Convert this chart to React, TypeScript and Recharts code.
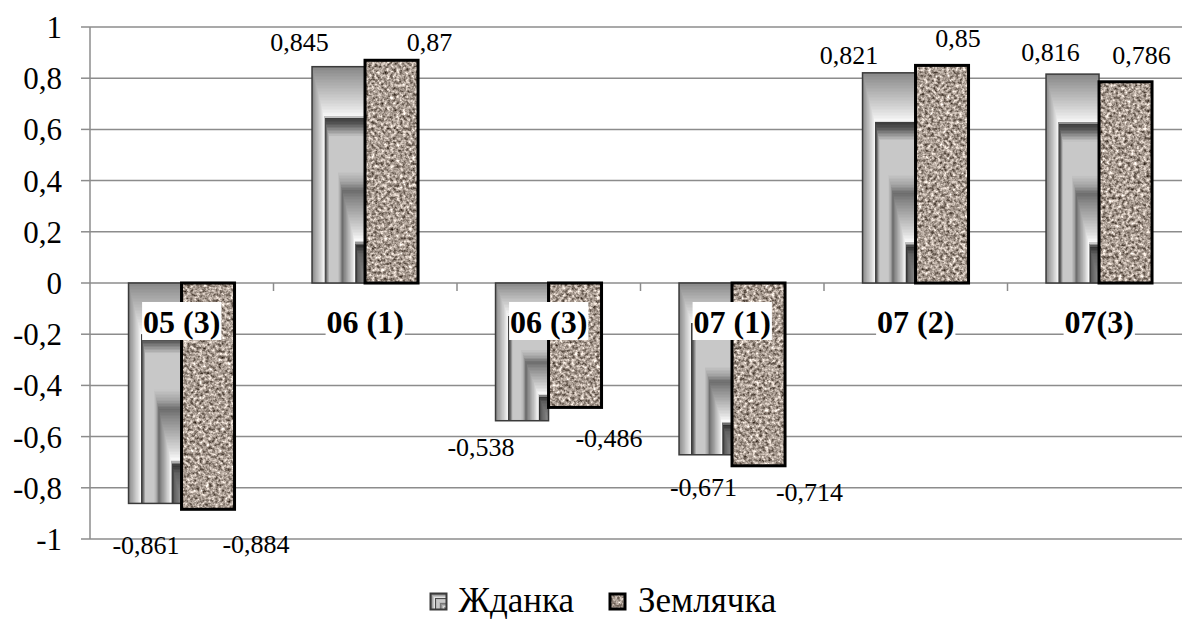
import React from 'react';
import {
  BarChart,
  Bar,
  XAxis,
  YAxis,
  CartesianGrid,
  Legend,
  LabelList,
} from 'recharts';

const categories = ['05 (3)', '06 (1)', '06 (3)', '07 (1)', '07 (2)', '07(3)'];
const zhdanka = [-0.861, 0.845, -0.538, -0.671, 0.821, 0.816];
const zemlyachka = [-0.884, 0.87, -0.486, -0.714, 0.85, 0.786];
const yTicks = [-1, -0.8, -0.6, -0.4, -0.2, 0, 0.2, 0.4, 0.6, 0.8, 1];

// label nudges [dx, dy] from bar centre / bar end, per category
const zhLabelShift: [number, number][] = [[-9, 41], [-39, -25], [-41, 26], [-2, 32], [-40, -18], [-22, -22]];
const zmLabelShift: [number, number][] = [[48, 35], [38, -18], [34, 30], [51, 26], [16, -28], [16, -27]];

const chartData = categories.map((name, i) => ({
  name,
  zhdanka: zhdanka[i],
  zemlyachka: zemlyachka[i],
}));

const W = 1200;
const H = 628;
const M = { top: 27, right: 9, left: 0, bottom: 0 };
const Y_AXIS_W = 90;
const X_AXIS_H = 1;
const LEGEND_H = 88;
const PLOT_H = H - M.top - M.bottom - LEGEND_H - X_AXIS_H;
const BAND = (W - M.left - M.right - Y_AXIS_W) / categories.length;

const SERIF = "'Liberation Serif', serif";
const GRID = '#8c8c8c';

const fmt = (v: number) => String(v).replace('.', ',');
const fmtTick = (v: number) => (Number.isInteger(v) ? String(v) : v.toFixed(1).replace('.', ','));

// chrome-like rectangular gradient, t = 1 at the outer edge, 0 at the bottom-right corner
const METAL: [number, number][] = [
  [1.0, 0x88], [0.96, 0x9c], [0.9, 0xb8], [0.84, 0xd4], [0.79, 0xee], [0.772, 0xfa],
  [0.768, 0x3a], [0.74, 0x55], [0.71, 0x90], [0.68, 0xc8], [0.52, 0xc8], [0.47, 0xa4],
  [0.43, 0x6c], [0.39, 0x88], [0.31, 0xb4], [0.24, 0xdc], [0.2, 0xfa], [0.175, 0x30],
  [0.14, 0x60], [0.0, 0x90],
];

function metal(t: number) {
  for (let i = 0; i < METAL.length - 1; i++) {
    const [t0, c0] = METAL[i];
    const [t1, c1] = METAL[i + 1];
    if (t <= t0 && t >= t1) {
      const k = t0 === t1 ? 0 : (t0 - t) / (t0 - t1);
      const c = Math.round(c0 + (c1 - c0) * k);
      return `rgb(${c},${c},${c})`;
    }
  }
  return 'rgb(136,136,136)';
}

function norm(p: any) {
  let { x, y, width, height } = p;
  if (height < 0) {
    y += height;
    height = -height;
  }
  return { x, y, width, height };
}

function MetalRect({ x, y, width, height, stroke = 1.5 }: any) {
  const steps = Math.max(16, Math.round(height / 1.5));
  const rects = [];
  for (let i = 0; i < steps; i++) {
    const t = 1 - i / steps;
    const w = width * t;
    const h = height * t;
    rects.push(
      <rect
        key={i}
        x={x + width - w}
        y={y + height - h}
        width={w}
        height={h}
        fill={metal(t)}
        shapeRendering="crispEdges"
      />
    );
  }
  return (
    <g>
      {rects}
      <rect x={x} y={y} width={width} height={height} fill="none" stroke="#3a3a3a" strokeWidth={stroke} />
    </g>
  );
}

function GraniteRect({ x, y, width, height, stroke = 3 }: any) {
  return (
    <g>
      <rect x={x} y={y} width={width} height={height} fill="#a99d94" filter="url(#granite)" />
      <rect x={x} y={y} width={width} height={height} fill="none" stroke="#000" strokeWidth={stroke} />
    </g>
  );
}

const ZhdankaShape = (props: any) => <MetalRect {...norm(props)} />;
const ZemlyachkaShape = (props: any) => <GraniteRect {...norm(props)} />;

const makeLabel = (shift: [number, number][]) => (props: any) => {
  const box = props.viewBox ?? props;
  const { x, y, width, height } = norm(box);
  const value = Number(props.value);
  const [dx, dy] = shift[props.index] ?? [0, 0];
  const anchorY = value >= 0 ? y : y + height;
  return (
    <text
      x={x + width / 2 + dx}
      y={anchorY + dy}
      dy="0.35em"
      textAnchor="middle"
      fontSize={26}
      style={{ fontFamily: SERIF }}
      fill="#000"
    >
      {fmt(value)}
    </text>
  );
};

// rough bold Times advance widths, in em
const textWidth = (s: string, size: number) =>
  s.split('').reduce((sum, ch) => sum + (ch === ' ' ? 0.25 : ch === '(' || ch === ')' ? 0.333 : 0.5), 0) * size;

// category names sit just under the zero line, on white boxes
function CategoryTick({ x, y, payload, index }: any) {
  const zeroY = y - PLOT_H / 2;
  const label = String(payload.value);
  const w = textWidth(label, 32) + 2;
  const left = x - BAND / 2;
  return (
    <g>
      {index > 0 && <line x1={left} x2={left} y1={zeroY} y2={zeroY + 8} stroke={GRID} strokeWidth={1.5} />}
      <rect x={x - w / 2} y={zeroY + 19} width={w} height={38} fill="#fff" />
      <text
        x={x}
        y={zeroY + 39}
        dy="0.35em"
        textAnchor="middle"
        fontSize={32}
        fontWeight="bold"
        style={{ fontFamily: SERIF }}
        fill="#000"
      >
        {label}
      </text>
    </g>
  );
}

function LegendBlock() {
  const item = (icon: React.ReactNode, text: string, gap: number) => (
    <div style={{ display: 'flex', alignItems: 'center', marginRight: gap }}>
      <svg width={19} height={19} style={{ marginRight: 11 }}>
        {icon}
      </svg>
      <span>{text}</span>
    </div>
  );
  return (
    <div
      style={{
        height: LEGEND_H,
        display: 'flex',
        justifyContent: 'center',
        alignItems: 'flex-start',
        paddingTop: 42,
        paddingLeft: 14,
        boxSizing: 'border-box',
        fontFamily: SERIF,
        fontSize: 35,
        lineHeight: '38px',
        color: '#000',
      }}
    >
      {item(<MetalRect x={1.5} y={1.5} width={16} height={16} stroke={2} />, 'Жданка', 34)}
      {item(<GraniteRect x={2} y={2} width={15} height={15} stroke={3} />, 'Землячка', 0)}
    </div>
  );
}

export default function App() {
  return (
    <div
      style={{
        position: 'fixed',
        left: 0,
        top: 0,
        width: 1182,
        height: 628,
        overflow: 'hidden',
        background: '#fff',
        fontFamily: SERIF,
      }}
    >
      <svg width={0} height={0} style={{ position: 'absolute' }}>
        <defs>
          <filter id="granite" x="0" y="0" width="1" height="1" colorInterpolationFilters="sRGB">
            <feTurbulence type="fractalNoise" baseFrequency="0.32" numOctaves={3} seed={7} result="noise" />
            <feColorMatrix
              in="noise"
              type="matrix"
              values="1.25 0 0 0 0.04  1.25 0 0 0 -0.01  1.25 0 0 0 -0.05  0 0 0 0 1"
              result="tint"
            />
            <feComposite in="tint" in2="SourceGraphic" operator="in" />
          </filter>
        </defs>
      </svg>
      <BarChart
        width={W}
        height={H}
        data={chartData}
        margin={M}
        barCategoryGap="21%"
        barGap={0}
        style={{ fontFamily: SERIF }}
      >
        <CartesianGrid vertical={false} stroke={GRID} strokeWidth={1.5} />
        <YAxis
          domain={[-1, 1]}
          ticks={yTicks}
          interval={0}
          width={Y_AXIS_W}
          tickFormatter={fmtTick}
          axisLine={{ stroke: GRID, strokeWidth: 1.5 }}
          tickLine={{ stroke: GRID, strokeWidth: 1.5 }}
          tickSize={9}
          tickMargin={19}
          tick={{ fontSize: 31, fill: '#000', style: { fontFamily: SERIF } }}
        />
        <Bar dataKey="zhdanka" name="Жданка" shape={ZhdankaShape} isAnimationActive={false}>
          <LabelList dataKey="zhdanka" content={makeLabel(zhLabelShift)} />
        </Bar>
        <Bar dataKey="zemlyachka" name="Землячка" shape={ZemlyachkaShape} isAnimationActive={false}>
          <LabelList dataKey="zemlyachka" content={makeLabel(zmLabelShift)} />
        </Bar>
        <XAxis
          dataKey="name"
          height={X_AXIS_H}
          interval={0}
          axisLine={false}
          tickLine={false}
          tickSize={0}
          tickMargin={0}
          tick={CategoryTick}
        />
        <Legend verticalAlign="bottom" height={LEGEND_H} content={() => <LegendBlock />} />
      </BarChart>
    </div>
  );
}
